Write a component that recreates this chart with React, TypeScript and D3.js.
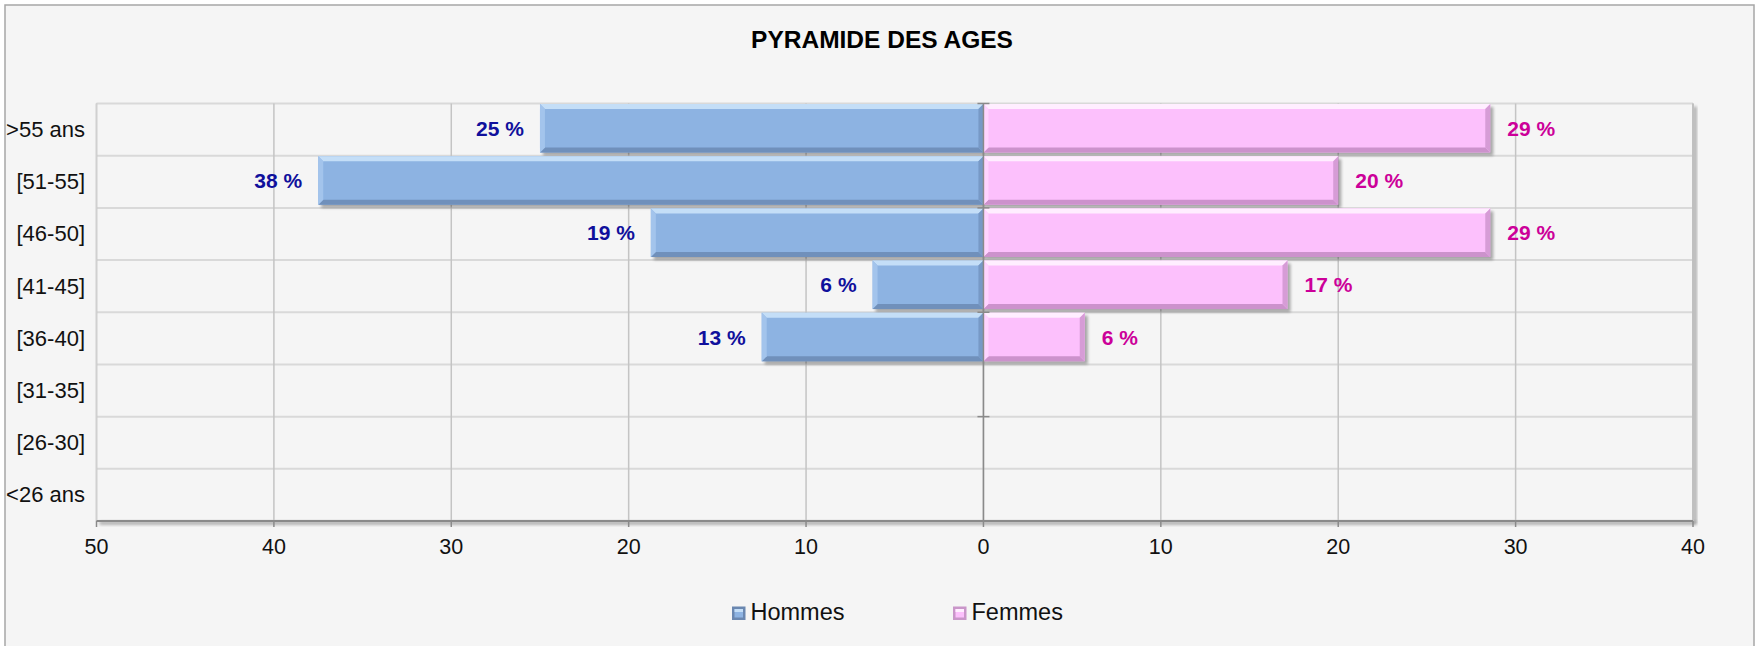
import React from "react";
import * as d3 from "d3";

const categories = [">55 ans", "[51-55]", "[46-50]", "[41-45]", "[36-40]", "[31-35]", "[26-30]", "<26 ans"];
const hommes = [25, 37.5, 18.75, 6.25, 12.5, 0, 0, 0];
const femmes = [28.57, 20, 28.57, 17.14, 5.71, 0, 0, 0];
const xTicks = [-50, -40, -30, -20, -10, 0, 10, 20, 30, 40];
const seriesNames = ["Hommes", "Femmes"];

const W = 1763;
const H = 646;
const M = { left: 96.5, right: 1693, top: 103.5, bottom: 521 };

const FONT = "'Liberation Sans', Arial, sans-serif";

const BLUE = { main: "#8db3e2", top: "#c4def7", left: "#a3c4ec", right: "#7799c6", bottom: "#7090bb" };
const PINK = { main: "#fcc0fc", top: "#ffeeff", left: "#ffd4ff", right: "#d69cd6", bottom: "#cc92cc" };

function BevelBar({ x0, x1, y, h, c }: { x0: number; x1: number; y: number; h: number; c: typeof BLUE }) {
  const b = Math.min(5, (x1 - x0) / 3);
  return (
    <g>
      <rect x={x0 + 3} y={y + 3} width={x1 - x0} height={h} fill="#000" opacity={0.32} filter="url(#blur)" />
      <rect x={x0} y={y} width={x1 - x0} height={h} fill={c.main} />
      <polygon points={`${x0},${y} ${x1},${y} ${x1 - b},${y + b} ${x0 + b},${y + b}`} fill={c.top} />
      <polygon points={`${x0},${y + h} ${x1},${y + h} ${x1 - b},${y + h - b} ${x0 + b},${y + h - b}`} fill={c.bottom} />
      <polygon points={`${x0},${y} ${x0 + b},${y + b} ${x0 + b},${y + h - b} ${x0},${y + h}`} fill={c.left} />
      <polygon points={`${x1},${y} ${x1 - b},${y + b} ${x1 - b},${y + h - b} ${x1},${y + h}`} fill={c.right} />
    </g>
  );
}

export default function App() {
  const x = d3.scaleLinear().domain([-50, 40]).range([M.left, M.right]);
  const y = d3.scaleBand<string>().domain(categories).range([M.top, M.bottom]).paddingInner(0).paddingOuter(0);
  const bw = y.bandwidth();
  const barH = bw * 0.93;
  const x0 = x(0);

  return (
    <svg width={W} height={H} style={{ position: "absolute", left: 0, top: 0, display: "block" }}>
      <defs>
        <filter id="blur" x="-10%" y="-30%" width="120%" height="160%">
          <feGaussianBlur stdDeviation="1.8" />
        </filter>
      </defs>
      <rect x={0} y={0} width={W} height={H} fill="#ffffff" />
      <rect x={5} y={5} width={1749} height={H + 10} fill="#f5f5f5" stroke="#a6a6a6" strokeWidth={1.5} />

      <text x={882} y={47.5} textAnchor="middle" fontFamily={FONT} fontWeight="bold" fontSize={24.5} fill="#000">
        PYRAMIDE DES AGES
      </text>

      {/* plot area shadow */}
      <rect x={M.right} y={M.top + 3} width={4} height={M.bottom - M.top} fill="#888" opacity={0.6} filter="url(#blur)" />
      <rect x={M.left + 3} y={M.bottom} width={M.right - M.left} height={4} fill="#888" opacity={0.6} filter="url(#blur)" />

      {/* horizontal grid (category boundaries) */}
      {d3.range(categories.length + 1).map((i) => {
        const yy = M.top + i * bw;
        return <line key={"h" + i} x1={M.left} x2={M.right} y1={yy} y2={yy} stroke="#d9d9d9" strokeWidth={2} />;
      })}
      {/* vertical grid */}
      {xTicks.map((t, i) => (
        <line key={"v" + i} x1={x(t)} x2={x(t)} y1={M.top} y2={M.bottom} stroke="#c4c4c4" strokeWidth={1.5} />
      ))}
      <line x1={M.left} x2={M.left} y1={M.top} y2={M.bottom} stroke="#d0d0d0" strokeWidth={1.5} />
      <line x1={M.right} x2={M.right} y1={M.top} y2={M.bottom} stroke="#bdbdbd" strokeWidth={1.5} />

      {/* bars */}
      {categories.map((cat, i) => {
        const yy = y(cat)! + 0.5;
        return (
          <g key={"b" + i}>
            {hommes[i] > 0 && <BevelBar x0={x(-hommes[i])} x1={x0} y={yy} h={barH} c={BLUE} />}
            {femmes[i] > 0 && <BevelBar x0={x0} x1={x(femmes[i])} y={yy} h={barH} c={PINK} />}
          </g>
        );
      })}

      {/* zero axis with category ticks (every 2 categories) */}
      <line x1={x0} x2={x0} y1={M.top} y2={M.bottom} stroke="#8a8a8a" strokeWidth={1.5} />
      {d3.range(0, categories.length + 1, 2).map((i) => {
        const yy = M.top + i * bw;
        return <line key={"zt" + i} x1={x0 - 6} x2={x0 + 6} y1={yy} y2={yy} stroke="#8a8a8a" strokeWidth={1.5} />;
      })}

      {/* bottom axis */}
      <line x1={M.left} x2={M.right} y1={M.bottom} y2={M.bottom} stroke="#8a8a8a" strokeWidth={2} />
      {xTicks.map((t) => (
        <g key={"t" + t}>
          <line x1={x(t)} x2={x(t)} y1={M.bottom} y2={M.bottom + 6} stroke="#8a8a8a" strokeWidth={1.5} />
          <text x={x(t)} y={553.5} textAnchor="middle" fontFamily={FONT} fontSize={21.5} fill="#111">
            {Math.abs(t)}
          </text>
        </g>
      ))}

      {/* category labels */}
      {categories.map((cat) => (
        <text key={"c" + cat} x={85} y={y(cat)! + bw / 2 + 7.5} textAnchor="end" fontFamily={FONT} fontSize={22} fill="#111">
          {cat}
        </text>
      ))}

      {/* data labels */}
      {categories.map((cat, i) => {
        const cy = y(cat)! + 0.5 + barH / 2 + 7.5;
        return (
          <g key={"l" + i}>
            {hommes[i] > 0 && (
              <text x={x(-hommes[i]) - 16} y={cy} textAnchor="end" fontFamily={FONT} fontWeight="bold" fontSize={21} fill="#10109c">
                {Math.round(hommes[i])} %
              </text>
            )}
            {femmes[i] > 0 && (
              <text x={x(femmes[i]) + 17} y={cy} textAnchor="start" fontFamily={FONT} fontWeight="bold" fontSize={21} fill="#cc0099">
                {Math.round(femmes[i])} %
              </text>
            )}
          </g>
        );
      })}

      {/* legend */}
      {seriesNames.map((name, i) => {
        const lx = i === 0 ? 732 : 953;
        const c = i === 0 ? BLUE : PINK;
        const edge = i === 0 ? "#6a87b0" : "#c996c9";
        return (
          <g key={"lg" + name}>
            <rect x={lx} y={606.5} width={13.5} height={13.5} fill={edge} />
            <rect x={lx + 2.5} y={609} width={8.5} height={8.5} fill={c.main} />
            <rect x={lx + 2.5} y={609} width={8.5} height={3} fill={c.top} />
            <text x={lx + 18.5} y={620} fontFamily={FONT} fontSize={23.5} fill="#111">
              {name}
            </text>
          </g>
        );
      })}
    </svg>
  );
}
